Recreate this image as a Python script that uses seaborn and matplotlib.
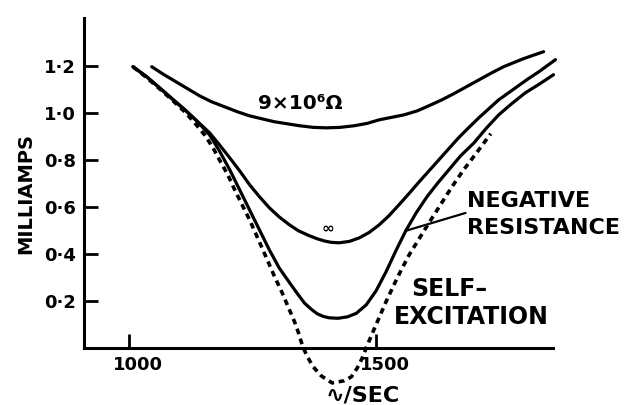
import matplotlib
matplotlib.use("Agg")
import matplotlib.pyplot as plt
from matplotlib.transforms import ScaledTranslation
import seaborn as sns
import pandas as pd

# ---- data (frequency in c/s, current in milliamps) ----
top_x = [1046, 1071, 1095, 1119, 1143, 1167, 1194, 1220, 1244, 1270, 1294, 1321, 1345, 1373, 1399, 1427,
         1456, 1482, 1506, 1532, 1556, 1583, 1607, 1633, 1657, 1683, 1708, 1734, 1758, 1798, 1839]
top_y = [1.196, 1.162, 1.132, 1.102, 1.072, 1.047, 1.025, 1.004, 0.987, 0.974, 0.962, 0.953, 0.945, 0.938, 0.936, 0.938,
         0.945, 0.955, 0.970, 0.981, 0.991, 1.008, 1.030, 1.055, 1.081, 1.111, 1.140, 1.170, 1.196, 1.230, 1.260]

inf_x = [1008, 1036, 1062, 1087, 1113, 1137, 1163, 1183, 1204, 1224, 1244, 1264, 1284, 1304, 1325, 1343, 1365, 1381,
         1395, 1409, 1425, 1446, 1466, 1486, 1506, 1526, 1546, 1566, 1587, 1607, 1627, 1647, 1667, 1687, 1708, 1728,
         1748, 1768, 1788, 1808, 1829, 1863]
inf_y = [1.196, 1.153, 1.106, 1.060, 1.013, 0.966, 0.915, 0.864, 0.808, 0.753, 0.694, 0.643, 0.596, 0.557, 0.523, 0.498,
         0.477, 0.464, 0.455, 0.449, 0.447, 0.453, 0.468, 0.491, 0.523, 0.562, 0.608, 0.655, 0.706, 0.753, 0.800, 0.847,
         0.894, 0.936, 0.979, 1.017, 1.055, 1.085, 1.115, 1.145, 1.174, 1.226]

neg_x = [1008, 1036, 1062, 1087, 1113, 1137, 1163, 1183, 1204, 1224, 1244, 1264, 1284, 1304, 1325, 1341, 1355, 1369,
         1381, 1393, 1405, 1423, 1442, 1460, 1480, 1500, 1520, 1540, 1560, 1581, 1603, 1625, 1647, 1671, 1698, 1722,
         1748, 1774, 1802, 1831, 1859]
neg_y = [1.196, 1.153, 1.106, 1.060, 1.013, 0.966, 0.906, 0.838, 0.757, 0.672, 0.587, 0.502, 0.417, 0.340, 0.277, 0.230,
         0.191, 0.164, 0.145, 0.134, 0.128, 0.126, 0.132, 0.147, 0.183, 0.243, 0.323, 0.413, 0.498, 0.574, 0.643, 0.702,
         0.757, 0.817, 0.872, 0.932, 0.991, 1.038, 1.085, 1.123, 1.162]

self_x = [1008, 1036, 1062, 1087, 1113, 1133, 1153, 1169, 1183, 1200, 1214, 1230, 1244, 1262, 1278, 1294, 1310, 1323,
          1335, 1343, 1351, 1361, 1373, 1389, 1411, 1435, 1450, 1462, 1472, 1480, 1492, 1506, 1520, 1536, 1550, 1567,
          1587, 1607, 1625, 1643, 1659, 1677, 1694, 1708, 1720, 1732]
self_y = [1.196, 1.149, 1.102, 1.055, 1.004, 0.957, 0.906, 0.855, 0.800, 0.736, 0.672, 0.604, 0.545, 0.460, 0.383, 0.306,
          0.234, 0.170, 0.111, 0.064, 0.009, -0.038, -0.081, -0.119, -0.149, -0.140, -0.123, -0.085, -0.043, 0.0, 0.060,
          0.128, 0.196, 0.268, 0.328, 0.396, 0.464, 0.532, 0.591, 0.651, 0.702, 0.757, 0.804, 0.843, 0.877, 0.911]

y_ticks = [0.2, 0.4, 0.6, 0.8, 1.0, 1.2]
y_tick_labels = ["0·2", "0·4", "0·6", "0·8", "1·0", "1·2"]
x_ticks = [1000, 1500]
x_tick_labels = ["1000", "1500"]

sns.set_theme(style="white")
plt.rcParams["font.family"] = ["DejaVu Sans"]
plt.rcParams["font.weight"] = "bold"
for k in ["text.color", "axes.labelcolor", "xtick.color", "ytick.color", "axes.edgecolor"]:
    plt.rcParams[k] = "black"

fig = plt.figure(figsize=(6.27, 4.05), dpi=100)
ax = fig.add_axes([0.134, 0.141, 0.748, 0.815])

lw = 2.3
for xs, ys in [(top_x, top_y), (inf_x, inf_y), (neg_x, neg_y)]:
    sns.lineplot(data=pd.DataFrame({"f": xs, "i": ys}), x="f", y="i", sort=False,
                 color="black", linewidth=lw, ax=ax, estimator=None)
n_before = len(ax.lines)
sns.lineplot(data=pd.DataFrame({"f": self_x, "i": self_y}), x="f", y="i", sort=False,
             color="black", linewidth=2.6, ax=ax, estimator=None)
for ln in ax.lines:
    ln.set_clip_on(False)
    ln.set_solid_capstyle("round")
    ln.set_solid_joinstyle("round")
dl = ax.lines[n_before]
dl.set_linestyle((0, (1.6, 1.3)))
dl.set_dash_capstyle("butt")

ax.set_xlim(909, 1858)
ax.set_ylim(0, 1.404)

for s in ["top", "right"]:
    ax.spines[s].set_visible(False)
for s in ["left", "bottom"]:
    ax.spines[s].set_linewidth(2.2)
    ax.spines[s].set_color("black")

ax.set_yticks(y_ticks)
ax.set_yticklabels(y_tick_labels, fontsize=13, fontweight="bold")
ax.set_xticks(x_ticks)
ax.set_xticklabels(x_tick_labels, fontsize=13, fontweight="bold")
ax.tick_params(axis="both", direction="in", length=10, width=2, pad=6, colors="black")
ax.tick_params(left=True, bottom=True)
for lab in ax.get_xticklabels():
    lab.set_transform(lab.get_transform() + ScaledTranslation(0.09, 0, fig.dpi_scale_trans))
ax.set_xlabel("")
ax.set_ylabel("")

ax.text(-0.124, 0.467, "MILLIAMPS", transform=ax.transAxes, rotation=90,
        ha="center", va="center", fontsize=14, fontweight="bold")
ax.text(1474, -0.204, "∿/SEC", ha="center", va="center", fontsize=16,
        fontweight="bold", clip_on=False)

ax.text(1347, 1.040, "9×10⁶Ω", ha="center", va="center", fontsize=14.5, fontweight="bold")
ax.text(1403, 0.511, "∞", ha="center", va="center", fontsize=11, fontweight="bold")

ax.text(1683, 0.625, "NEGATIVE", ha="left", va="center", fontsize=16, fontweight="bold", clip_on=False)
ax.text(1683, 0.511, "RESISTANCE", ha="left", va="center", fontsize=16, fontweight="bold", clip_on=False)
ax.plot([1560, 1681], [0.498, 0.574], color="black", lw=1.6)

ax.text(1571, 0.251, "SELF–", ha="left", va="center", fontsize=17, fontweight="bold")
ax.text(1536, 0.132, "EXCITATION", ha="left", va="center", fontsize=17, fontweight="bold")

fig.savefig("out.png", dpi=100, facecolor="white")
